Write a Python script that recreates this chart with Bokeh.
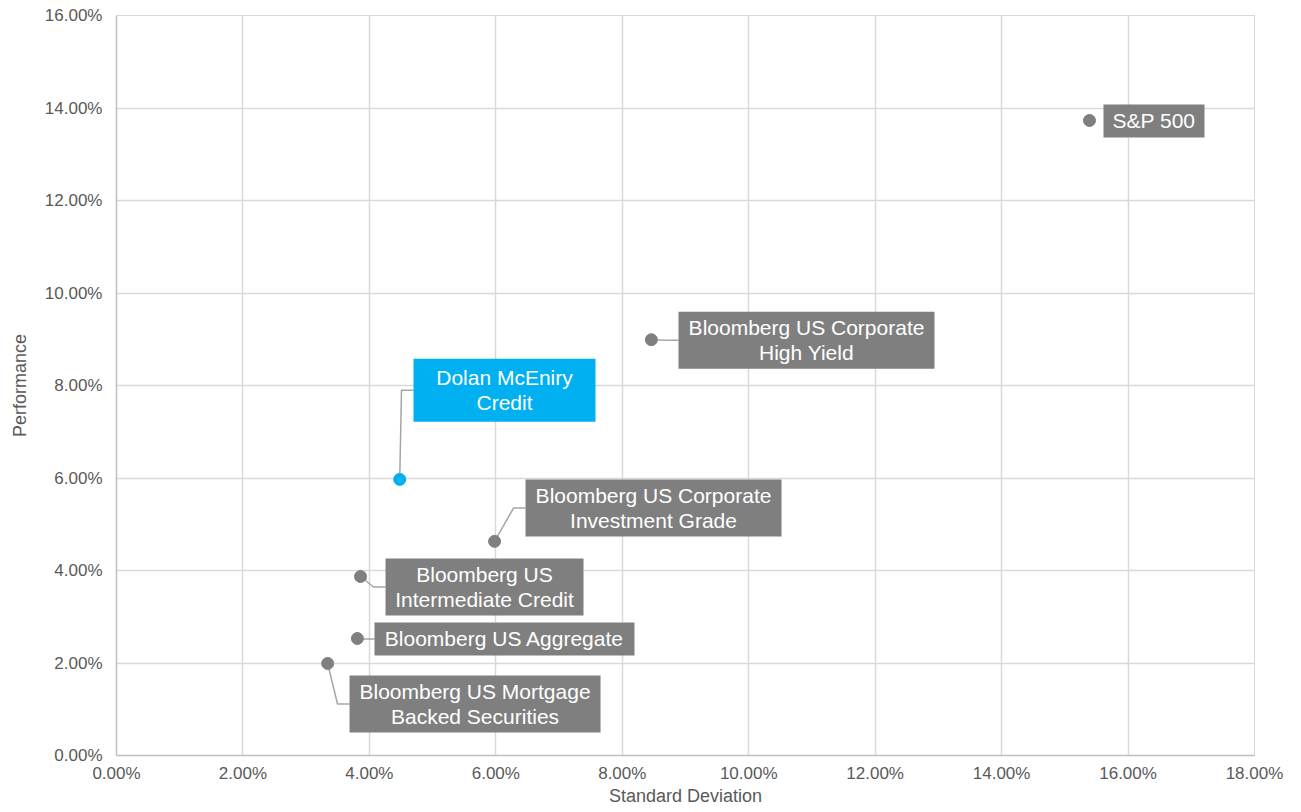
from bokeh.plotting import figure
from bokeh.models import NumeralTickFormatter, FixedTicker, ColumnDataSource
from bokeh.core.properties import value
from bokeh.embed import file_html
from bokeh.resources import INLINE

# ---- data (percent) ----
names = ["S&P 500", "Bloomberg US Corporate High Yield", "Dolan McEniry Credit",
         "Bloomberg US Corporate Investment Grade", "Bloomberg US Intermediate Credit",
         "Bloomberg US Aggregate", "Bloomberg US Mortgage Backed Securities"]
label_text = ["S&P 500", "Bloomberg US Corporate\nHigh Yield", "Dolan McEniry\nCredit",
              "Bloomberg US Corporate\nInvestment Grade", "Bloomberg US\nIntermediate Credit",
              "Bloomberg US Aggregate", "Bloomberg US Mortgage\nBacked Securities"]
std_dev = [15.39, 8.46, 4.48, 5.98, 3.86, 3.81, 3.34]
performance = [13.73, 8.99, 5.97, 4.63, 3.87, 2.53, 1.99]
highlight = [False, False, True, False, False, False, False]

# label placement (percent units) and box sizes (px)
label_x = [16.41, 10.914, 6.137, 8.494, 5.821, 6.137, 5.671]
label_y = [13.72, 8.98, 7.90, 5.35, 3.643, 2.519, 1.114]
box_w = [101, 256, 182, 256, 198, 260, 251]
box_h = [33, 57, 63, 57, 57, 33, 57]
has_leader = [False, True, True, True, True, True, True]

x_ticks = [0, 2, 4, 6, 8, 10, 12, 14, 16, 18]
y_ticks = [0, 2, 4, 6, 8, 10, 12, 14, 16]

FRAME_W, FRAME_H = 1138, 740
X_MAX, Y_MAX = 0.18, 0.16
px_per_x = FRAME_W / X_MAX

GRAY = "#7f7f7f"
BLUE = "#00b0f0"
FONT = "Liberation Sans"

p = figure(width=1295, height=812, x_range=(0, X_MAX), y_range=(0, Y_MAX),
           output_backend="svg", toolbar_location=None,
           min_border_left=116, min_border_top=15, min_border_right=41, min_border_bottom=57)
p.outline_line_color = "#d9d9d9"
p.background_fill_color = "white"
p.border_fill_color = "white"

p.xaxis.ticker = FixedTicker(ticks=[t / 100 for t in x_ticks])
p.yaxis.ticker = FixedTicker(ticks=[t / 100 for t in y_ticks])
for ax in (p.xaxis, p.yaxis):
    ax.formatter = NumeralTickFormatter(format="0.00%")
    ax.major_tick_line_color = None
    ax.minor_tick_line_color = None
    ax.major_tick_in = 0
    ax.major_tick_out = 0
    ax.axis_line_color = "#bfbfbf"
    ax.axis_line_width = 1.5
    ax.major_label_text_font = FONT
    ax.major_label_text_font_size = "17px"
    ax.major_label_text_color = "#595959"
    ax.axis_label_text_font = FONT
    ax.axis_label_text_font_size = "18px"
    ax.axis_label_text_font_style = "normal"
    ax.axis_label_text_color = "#595959"
p.xaxis.axis_label = "Standard Deviation"
p.yaxis.axis_label = "Performance"
p.xaxis.major_label_standoff = 8
p.xaxis.axis_label_standoff = 0
p.yaxis.major_label_standoff = 14
p.yaxis.axis_label_standoff = 12

p.xgrid.grid_line_color = "#d9d9d9"
p.ygrid.grid_line_color = "#d9d9d9"
p.xgrid.grid_line_width = 1.5
p.ygrid.grid_line_width = 1.5

xs_pt = [v / 100 for v in std_dev]
ys_pt = [v / 100 for v in performance]
lx = [v / 100 for v in label_x]
ly = [v / 100 for v in label_y]
colors = [BLUE if h else GRAY for h in highlight]

# leader lines
lead_xs, lead_ys = [], []
for i in range(len(names)):
    if not has_leader[i]:
        continue
    left = lx[i] - (box_w[i] / 2) / px_per_x
    elbow = left - 12 / px_per_x
    lead_xs.append([xs_pt[i], elbow, left])
    lead_ys.append([ys_pt[i], ly[i], ly[i]])
p.multi_line(lead_xs, lead_ys, line_color="#a6a6a6", line_width=1.5)

p.scatter(xs_pt, ys_pt, size=12, fill_color=colors, line_color=colors, marker="circle")

src = ColumnDataSource(dict(x=lx, y=ly, w=box_w, h=box_h, t=label_text, c=colors))
p.rect(x="x", y="y", width="w", height="h", width_units="screen", height_units="screen",
       source=src, fill_color="c", line_color=None)
p.text(x="x", y="y", text="t", source=src, text_align="center", text_baseline="middle",
       text_font=value(FONT), text_font_size="21px", text_color="white", text_line_height=1.1)

open("out.html", "w").write(file_html(p, INLINE))
